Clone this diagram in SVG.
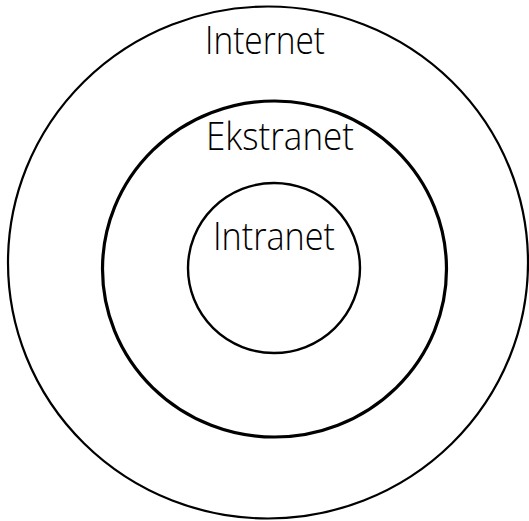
<svg xmlns="http://www.w3.org/2000/svg" width="529" height="521" viewBox="0 0 529 521">
<style>
.ring{fill:none;stroke:#000}
.lbl{font-family:"Open Sans","Liberation Sans",sans-serif;font-weight:300;font-size:38px;fill:#000}
</style>
<rect width="529" height="521" fill="#fff"/>
<g id="internet">
<ellipse class="ring" cx="268" cy="262.5" rx="260" ry="256" stroke-width="2.2"/>
<text class="lbl" x="205" y="54" textLength="120" lengthAdjust="spacingAndGlyphs">Internet</text>
</g>
<g id="ekstranet">
<ellipse class="ring" cx="274.5" cy="269" rx="172" ry="168" stroke-width="3.2"/>
<text class="lbl" x="206" y="150" textLength="148" lengthAdjust="spacingAndGlyphs">Ekstranet</text>
</g>
<g id="intranet">
<ellipse class="ring" cx="274" cy="268" rx="86" ry="85" stroke-width="2.4"/>
<text class="lbl" x="213" y="250" textLength="122" lengthAdjust="spacingAndGlyphs">Intranet</text>
</g>
<g id="connectors"/>
</svg>
